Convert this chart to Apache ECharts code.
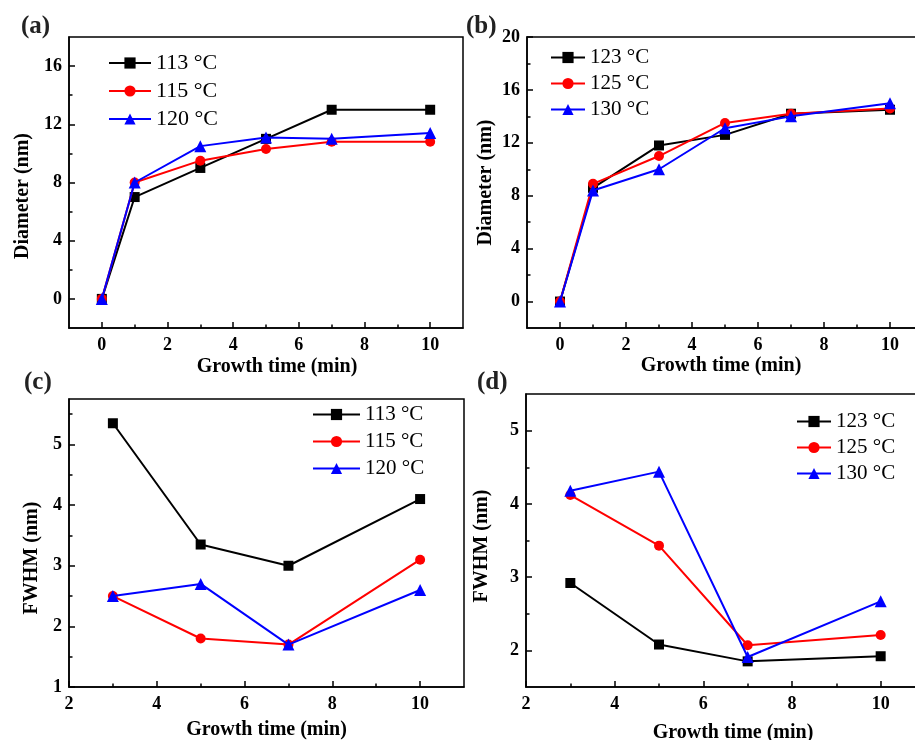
<!DOCTYPE html>
<html>
<head>
<meta charset="utf-8">
<script src="https://cdn.jsdelivr.net/npm/echarts@6/dist/echarts.min.js"></script>
<style>
  html, body { margin: 0; padding: 0; background: #fff; }
  #chart { width: 915px; height: 740px; }
</style>
</head>
<body>
<div id="chart"></div>
<script>
// Growth time (min) for the diameter panels and the FWHM panels
const timeDiam = [0, 1, 3, 5, 7, 10];
const timeFwhm = [3, 5, 7, 10];

// Panel (a): diameter at 113 / 115 / 120 °C
const namesA = ['113 °C', '115 °C', '120 °C'];
const diam113 = [0, 7.0, 9.0, 11.0, 13.0, 13.0];
const diam115 = [0, 8.0, 9.5, 10.3, 10.8, 10.8];
const diam120 = [0, 8.0, 10.5, 11.1, 11.0, 11.4];

// Panel (b): diameter at 123 / 125 / 130 °C
const namesB = ['123 °C', '125 °C', '130 °C'];
const diam123 = [0, 8.6, 11.8, 12.6, 14.2, 14.5];
const diam125 = [0, 8.9, 11.0, 13.5, 14.2, 14.6];
const diam130 = [0, 8.4, 10.0, 13.1, 14.0, 15.0];

// Panel (c): FWHM at 113 / 115 / 120 °C
const fwhm113 = [5.35, 3.35, 3.0, 4.1];
const fwhm115 = [2.5, 1.8, 1.7, 3.1];
const fwhm120 = [2.5, 2.7, 1.7, 2.6];

// Panel (d): FWHM at 123 / 125 / 130 °C
const fwhm123 = [2.92, 2.08, 1.85, 1.92];
const fwhm125 = [4.12, 3.43, 2.07, 2.21];
const fwhm130 = [4.18, 4.44, 1.91, 2.67];

// Tick values (major = labelled, minor = short unlabelled)
const xDiamMajor = [0, 2, 4, 6, 8, 10];
const xDiamMinor = [1, 3, 5, 7, 9];
const yAMajor = [0, 4, 8, 12, 16];
const yAMinor = [2, 6, 10, 14];
const yBMajor = [0, 4, 8, 12, 16, 20];
const yBMinor = [2, 6, 10, 14, 18];
const xFwhmMajor = [2, 4, 6, 8, 10];
const xFwhmMinor = [3, 5, 7, 9];
const yCMajor = [1, 2, 3, 4, 5];
const yCMinor = [1.5, 2.5, 3.5, 4.5, 5.5];
const yDMajor = [2, 3, 4, 5];
const yDMinor = [2.5, 3.5, 4.5];

const FONT = "'Liberation Serif', 'Times New Roman', serif";
const COLORS = ['#000000', '#ff0000', '#0000ff'];
const SYMBOLS = ['rect', 'circle', 'triangle'];
const SIZES = [10, 10, 12];

const chart = echarts.init(document.getElementById('chart'), null, { renderer: 'canvas' });

// Panels (b) and (d) run past the right edge of the page, so no bounds fitting
const grids = [
  { left: 69, top: 37, width: 394, height: 291 },
  { left: 527, top: 37, width: 396, height: 291 },
  { left: 69, top: 399, width: 395, height: 288 },
  { left: 526, top: 394, width: 399, height: 293 }
].map(g => Object.assign({
  show: true, borderColor: '#000', borderWidth: 1.5, backgroundColor: 'transparent',
  containLabel: false, outerBoundsMode: 'none'
}, g));

const xAxes = [];
const yAxes = [];

function addX(gridIndex, min, max, major, minor, name, gap, pad) {
  xAxes.push({
    type: 'value', gridIndex, min, max, position: 'bottom',
    name, nameLocation: 'middle', nameGap: gap,
    nameTextStyle: { fontFamily: FONT, fontWeight: 'bold', fontSize: 20, color: '#000', padding: pad },
    axisLine: { show: true, onZero: false, lineStyle: { color: '#000', width: 1.5 } },
    axisTick: { show: true, inside: true, length: 6, customValues: major, lineStyle: { color: '#000', width: 1.5 } },
    axisLabel: { show: true, margin: 8, customValues: major, fontFamily: FONT, fontWeight: 'bold', fontSize: 18, color: '#000' },
    splitLine: { show: false }
  });
  xAxes.push({
    type: 'value', gridIndex, min, max, position: 'bottom',
    axisLine: { show: false, onZero: false },
    axisTick: { show: true, inside: true, length: 3.5, customValues: minor, lineStyle: { color: '#000', width: 1.5 } },
    axisLabel: { show: false },
    splitLine: { show: false }
  });
}

function addY(gridIndex, min, max, major, minor, name, gap, pad) {
  yAxes.push({
    type: 'value', gridIndex, min, max, position: 'left',
    name, nameLocation: 'middle', nameGap: gap,
    nameTextStyle: { fontFamily: FONT, fontWeight: 'bold', fontSize: 20, color: '#000', padding: pad },
    axisLine: { show: true, onZero: false, lineStyle: { color: '#000', width: 1.5 } },
    axisTick: { show: true, inside: true, length: 6, customValues: major, lineStyle: { color: '#000', width: 1.5 } },
    axisLabel: { show: true, margin: 7, customValues: major, fontFamily: FONT, fontWeight: 'bold', fontSize: 18, color: '#000' },
    splitLine: { show: false }
  });
  yAxes.push({
    type: 'value', gridIndex, min, max, position: 'left',
    axisLine: { show: false, onZero: false },
    axisTick: { show: true, inside: true, length: 3.5, customValues: minor, lineStyle: { color: '#000', width: 1.5 } },
    axisLabel: { show: false },
    splitLine: { show: false }
  });
}

// Axes: each panel gets a labelled axis pair and a minor-tick axis pair
addX(0, -1, 11, xDiamMajor, xDiamMinor, 'Growth time (min)', 29, [0, 0, 0, 22]);
addY(0, -2, 18, yAMajor, yAMinor, 'Diameter (nm)', 36, [0, 27, 0, 0]);
addX(1, -1, 11, xDiamMajor, xDiamMinor, 'Growth time (min)', 28, [0, 8, 0, 0]);
addY(1, -2, 20, yBMajor, yBMinor, 'Diameter (nm)', 31, [0, 0, 0, 0]);
addX(2, 2, 11, xFwhmMajor, xFwhmMinor, 'Growth time (min)', 33, [0, 0, 0, 0]);
addY(2, 1, 5.75, yCMajor, yCMinor, 'FWHM (nm)', 27, [0, 30, 0, 0]);
addX(3, 2, 11, xFwhmMajor, xFwhmMinor, 'Growth time (min)', 36, [0, 0, 0, 15]);
addY(3, 1.5, 5.5, yDMajor, yDMinor, 'FWHM (nm)', 34, [0, 11, 0, 0]);

const series = [];
function addSeries(panel, names, xs, ys) {
  ys.forEach((vals, i) => {
    series.push({
      type: 'line', name: names[i],
      xAxisIndex: panel * 2, yAxisIndex: panel * 2,
      data: xs.map((x, k) => [x, vals[k]]),
      symbol: SYMBOLS[i], symbolSize: SIZES[i],
      showSymbol: true,
      lineStyle: { color: COLORS[i], width: 2 },
      itemStyle: { color: COLORS[i] },
      emphasis: { disabled: true },
      animation: false,
      z: 2 + i
    });
  });
}
addSeries(0, namesA, timeDiam, [diam113, diam115, diam120]);
addSeries(1, namesB, timeDiam, [diam123, diam125, diam130]);
addSeries(2, namesA, timeFwhm, [fwhm113, fwhm115, fwhm120]);
addSeries(3, namesB, timeFwhm, [fwhm123, fwhm125, fwhm130]);

function legend(names, left, top, itemWidth, itemGap, fontSize) {
  return {
    data: names, orient: 'vertical', left, top, padding: 0,
    itemWidth, itemHeight: 14, itemGap,
    selectedMode: false,
    textStyle: { fontFamily: FONT, fontSize, color: '#000' }
  };
}

function panelLabel(text, left, top) {
  return {
    type: 'text', left, top,
    style: { text, fontFamily: FONT, fontWeight: 'bold', fontSize: 25, fill: '#222' }
  };
}

chart.setOption({
  animation: false,
  backgroundColor: '#fff',
  grid: grids,
  xAxis: xAxes,
  yAxis: yAxes,
  legend: [
    legend(namesA, 108, 52, 42, 6, 22),
    legend(namesB, 550, 47, 34, 5, 21),
    legend(namesA, 312, 404, 47, 6, 21),
    legend(namesB, 796, 411, 34, 5, 21)
  ],
  graphic: [
    panelLabel('(a)', 21, 14),
    panelLabel('(b)', 466, 14),
    panelLabel('(c)', 24, 370),
    panelLabel('(d)', 477, 370)
  ],
  series
});
</script>
</body>
</html>
